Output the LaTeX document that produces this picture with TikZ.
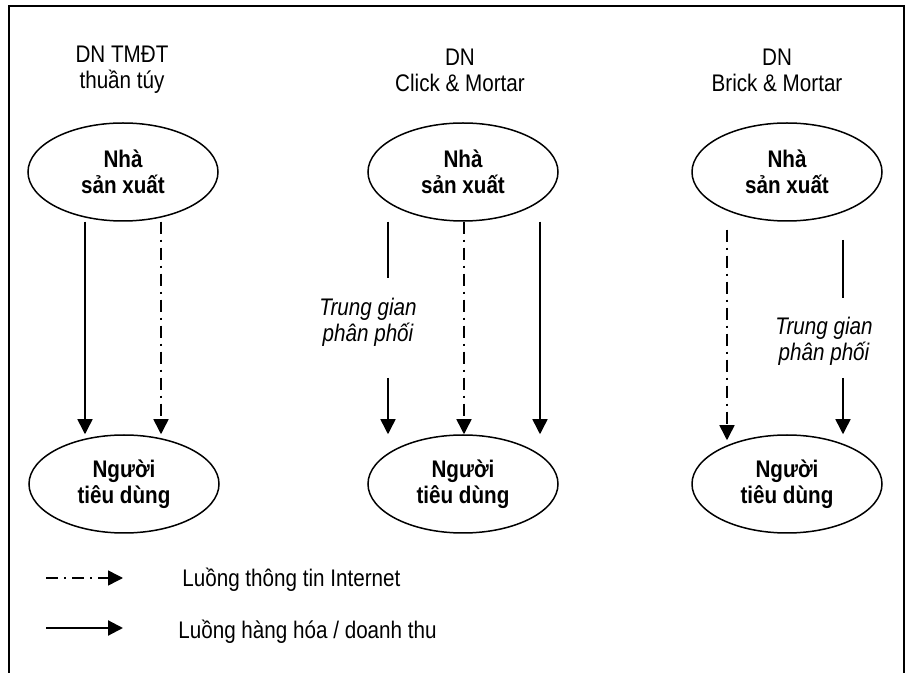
\documentclass[tikz,border=0pt]{standalone}
\usepackage{fontspec}
\setmainfont{Liberation Sans}[FakeStretch=0.86]
\usetikzlibrary{arrows.meta, shapes.geometric, positioning}
\newcommand{\diagfont}{\fontsize{12}{13}\selectfont}
\tikzset{
	actornode/.style={
			ellipse,
			draw=black,
			line width=0.75pt,
			minimum width=95pt,
			minimum height=49pt,
			inner sep=0pt,
			align=center,
			font=\diagfont\bfseries
		},
	headnode/.style={
			align=center,
			inner sep=0pt,
			font=\diagfont
		},
	midnode/.style={
			align=center,
			inner sep=0pt,
			font=\diagfont\itshape
		},
	goodsflow/.style={
			line width=0.75pt,
			-{Triangle[width=7.5pt,length=7.5pt]}
		},
	infoflow/.style={
			goodsflow,
			dash pattern=on 6pt off 3pt on 1pt off 3pt
		},
	plainline/.style={
			line width=0.75pt
		}
}

\begin{document}
\begin{tikzpicture}[x=0.5pt, y=-0.5pt]
\useasboundingbox (0,0) rectangle (906,673);
\draw[line width=1pt] (9,673) -- (9,6) -- (904,6) -- (904,673);

% headers
\node[headnode] (headA) at (122,70) {DN TMĐT\\thuần túy};
\node[headnode] (headB) at (460,70) {DN\\Click \& Mortar};
\node[headnode] (headC) at (777,70) {DN\\Brick \& Mortar};

% producers and consumers
\node[actornode] (prodA) at (123,172) {Nhà\\sản xuất};
\node[actornode] (prodB) at (463,172) {Nhà\\sản xuất};
\node[actornode] (prodC) at (787,172) {Nhà\\sản xuất};
\node[actornode] (consA) at (124,484) {Người\\tiêu dùng};
\node[actornode] (consB) at (463,484) {Người\\tiêu dùng};
\node[actornode] (consC) at (787,484) {Người\\tiêu dùng};

% intermediaries
\node[midnode] (distB) at (368,322) {Trung gian\\phân phối};
\node[midnode] (distC) at (824,341) {Trung gian\\phân phối};
\coordinate (gapB1) at (388,278);
\coordinate (gapB2) at (388,378);
\coordinate (gapC0) at (843,240);
\coordinate (gapC1) at (843,298);
\coordinate (gapC2) at (843,378);

% DN TMDT
\draw[goodsflow] ([xshift=-19pt]prodA.south) -- ([xshift=-19pt]prodA.south |- consA.north);
\draw[infoflow] ([xshift=19pt]prodA.south) -- ([xshift=19pt]prodA.south |- consA.north);

% Click & Mortar
\draw[plainline] (gapB1 |- prodB.south) -- (gapB1);
\draw[goodsflow] (gapB2) -- (gapB2 |- consB.north);
\draw[infoflow] ([xshift=0.5pt]prodB.south) -- ([xshift=0.5pt]prodB.south |- consB.north);
\draw[goodsflow] ([xshift=38.5pt]prodB.south) -- ([xshift=38.5pt]prodB.south |- consB.north);

% Brick & Mortar
\draw[infoflow] ([xshift=-30pt,yshift=-4pt]prodC.south) -- ([xshift=-30pt,yshift=-3pt]prodC.south |- consC.north);
\draw[plainline] (gapC0) -- (gapC1);
\draw[goodsflow] (gapC2) -- (gapC2 |- consC.north);

% legend
\coordinate (keyA) at (46,578);
\coordinate (keyB) at (46,628);
\draw[infoflow] (keyA) -- ++(77,0);
\draw[goodsflow, line width=1.1pt] (keyB) -- ++(77,0);
\node[headnode, anchor=west] (keyAtext) at (182,580) {Luồng thông tin Internet};
\node[headnode, anchor=west] (keyBtext) at (178,632) {Luồng hàng hóa / doanh thu};

\end{tikzpicture}
\end{document}
